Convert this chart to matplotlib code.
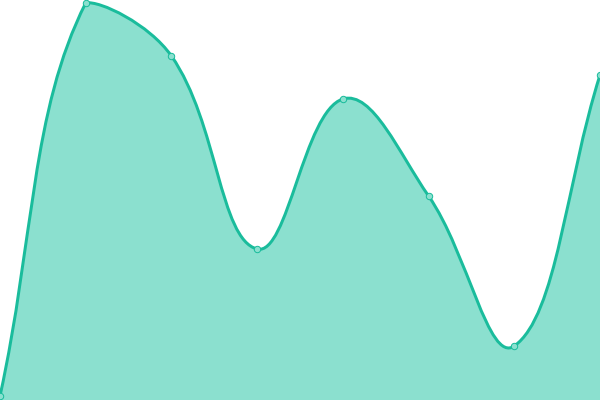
import numpy as np
import matplotlib
matplotlib.use("Agg")
import matplotlib.pyplot as plt
from matplotlib.path import Path
from matplotlib.patches import PathPatch

# category index and values (y axis 0..400)
categories = list(range(8))
values = [4, 397, 344, 151, 301, 204, 54, 325]

line_color = '#1abc9c'
fill_color = '#8be0cf'
tension = 0.4


def spline_path(pts, x0, x1, y0, y1):
    # cardinal-style spline, control points kept inside the plot area
    n = len(pts)
    cps = []
    for i in range(n):
        cur = pts[i]
        prev = pts[i - 1] if i > 0 else cur
        nxt = pts[i + 1] if i < n - 1 else cur
        d01 = np.hypot(*(cur - prev))
        d12 = np.hypot(*(nxt - cur))
        tot = d01 + d12
        s01 = d01 / tot if tot else 0
        s12 = d12 / tot if tot else 0
        cp_prev = cur - tension * s01 * (nxt - prev)
        cp_next = cur + tension * s12 * (nxt - prev)
        cp_prev = np.clip(cp_prev, [x0, y0], [x1, y1])
        cp_next = np.clip(cp_next, [x0, y0], [x1, y1])
        cps.append((cp_prev, cp_next))
    verts = [tuple(pts[0])]
    codes = [Path.MOVETO]
    for i in range(1, n):
        verts += [tuple(cps[i - 1][1]), tuple(cps[i][0]), tuple(pts[i])]
        codes += [Path.CURVE4] * 3
    return verts, codes


fig = plt.figure(figsize=(6, 4), dpi=100)
ax = fig.add_axes([0, 0, 1, 1])
ax.set_xlim(0, len(categories) - 1)
ax.set_ylim(0, 400)
ax.axis('off')

disp = ax.transData.transform(np.column_stack([categories, values]))
bb = ax.bbox
verts, codes = spline_path(disp, bb.x0, bb.x1, bb.y0, bb.y1)
inv = ax.transData.inverted()
dverts = inv.transform(np.array(verts))

line_path = Path(dverts, codes)
fill_verts = np.vstack([dverts, [[categories[-1], 0], [categories[0], 0], dverts[0]]])
fill_codes = codes + [Path.LINETO, Path.LINETO, Path.CLOSEPOLY]
ax.add_patch(PathPatch(Path(fill_verts, fill_codes), facecolor=fill_color,
                       edgecolor='none', zorder=1))
ax.add_patch(PathPatch(line_path, facecolor='none', edgecolor=line_color,
                       lw=2.16, zorder=2))
ax.plot(categories, values, 'o', ms=4.6, mfc=fill_color, mec=line_color,
        mew=0.72, zorder=3, clip_on=True)

fig.savefig('out.png', dpi=100)
